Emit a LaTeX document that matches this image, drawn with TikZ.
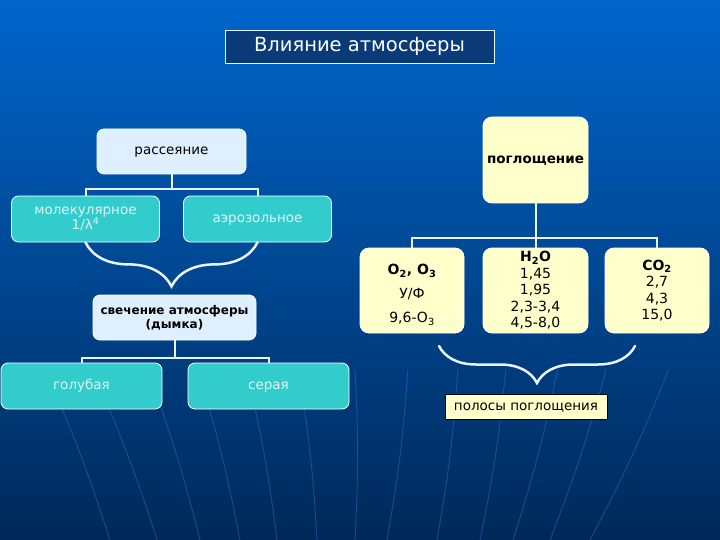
\documentclass[tikz,border=0pt]{standalone}
\usepackage{fontspec}
\setmainfont{DejaVu Sans}
\usepackage{xcolor}
\usetikzlibrary{positioning, decorations.pathreplacing, calc}

\definecolor{bgtop}{RGB}{0,102,204}
\definecolor{bgmid}{RGB}{6,78,160}
\definecolor{bgbot}{RGB}{0,40,88}
\definecolor{titlefill}{RGB}{10,58,120}
\definecolor{lightblue}{RGB}{222,240,255}
\definecolor{teal}{RGB}{51,204,204}
\definecolor{tealtext}{RGB}{222,245,245}
\definecolor{paleyellow}{RGB}{255,255,204}
\definecolor{linecol}{RGB}{232,244,255}
\definecolor{streak}{RGB}{40,120,220}

\newcommand{\px}[1]{\fontsize{#1}{#1}\selectfont}

\begin{document}
\begin{tikzpicture}[
    x=1pt, y=-1pt,
    title/.style={draw=linecol, line width=0.7pt, fill=titlefill, text=white,
      minimum width=269, minimum height=33, font=\px{19.5}},
    lbox/.style={draw=white, line width=0.8pt, rounded corners=7pt, fill=lightblue,
      align=center, font=\px{13.5}, minimum width=#1, minimum height=45},
    lbox/.default=149,
    tbox/.style={draw=white, line width=0.8pt, rounded corners=7pt, fill=teal, text=tealtext,
      align=center, font=\px{13.5}, minimum width=#1, minimum height=46},
    tbox/.default=148,
    oneline/.style={text height=10pt, text depth=3pt},
    ybox/.style={draw=white, line width=0.8pt, rounded corners=9pt, fill=paleyellow,
      align=center, font=\fontsize{14}{16.5}\selectfont, minimum width=104, minimum height=85, inner sep=1pt},
    tree/.style={draw=linecol, line width=2pt},
    curly/.style={draw=linecol, line width=2.5pt, line cap=round, decorate,
      decoration={brace, amplitude=#1}},
    streakline/.style={draw=streak, line width=0.9pt, opacity=0.45},
]

% background
\shade[top color=bgtop, middle color=bgmid, bottom color=bgbot] (0,0) rectangle (720,540);
\useasboundingbox (0,0) rectangle (720,540);
\foreach \xt/\xb in {-8/110, 39/157, 104/200, 163/240, 221/277, 283/317, 355/355,
                     425/387, 475/437, 527/480, 594/513, 652/550, 733/590}
  \draw[streakline] ($(\xt,230)!0.45!(\xb,540)$) to[bend left=3] (\xb,540);

% Title
\node[title] (title) at (359.5,46.5) {Влияние атмосферы};

% Left branch: scattering
\node[lbox, oneline] (scat) at (171.5,151.5) {рассеяние};
\node[tbox] (mol) at (85.5,219) {молекулярное\\[-1pt]1/λ\textsuperscript{4}};
\node[tbox, oneline] (aer) at (257.5,219) {аэрозольное};

\draw[tree] (scat.south) -- ++(0,15) -| (mol.north);
\draw[tree] (scat.south) -- ++(0,15) -| (aer.north);

\draw[curly=44pt] (aer.south) -- (mol.south);

\node[lbox=163, font=\bfseries\px{12}] (glow) at (174.5,317.5) {свечение атмосферы\\[2pt](дымка)};

\node[tbox=161, oneline] (blue) at (81.5,386) {голубая};
\node[tbox=161, oneline] (grey) at (268.5,386) {серая};

\draw[tree] (glow.south) -- ++(0,18) -| (blue.north);
\draw[tree] (glow.south) -- ++(0,18) -| (grey.north);

% Right branch: absorption
\node[ybox, oneline, minimum width=105, minimum height=86, font=\bfseries\px{13.5}] (absorb) at (535.5,160) {поглощение};

\node[ybox] (otwo) at (412,290.5) {\rule{0pt}{19pt}\textbf{O\textsubscript{2}, O\textsubscript{3}}\\[7pt]У/Ф\\[8pt]9,6-O\textsubscript{3}};
\node[ybox, minimum width=105] (water) at (535.5,290.5) {\textbf{H\textsubscript{2}O}\\1,45\\1,95\\2,3-3,4\\4,5-8,0};
\node[ybox] (ctwo) at (657,290.5) {\textbf{CO\textsubscript{2}}\\2,7\\4,3\\15,0};

\draw[tree] (absorb.south) -- ++(0,35) -| (otwo.north);
\draw[tree] (absorb.south) -- ++(0,35) -| (water.north);
\draw[tree] (absorb.south) -- ++(0,35) -| (ctwo.north);

\coordinate (bandL) at (439,346);
\coordinate (bandR) at (635,346);
\draw[curly=37pt] (bandR) -- (bandL);

\node[draw=black, line width=0.6pt, fill=paleyellow, font=\px{13.5}, oneline,
      minimum width=162, minimum height=25] (bands) at (526,407) {полосы поглощения};

\end{tikzpicture}
\end{document}
